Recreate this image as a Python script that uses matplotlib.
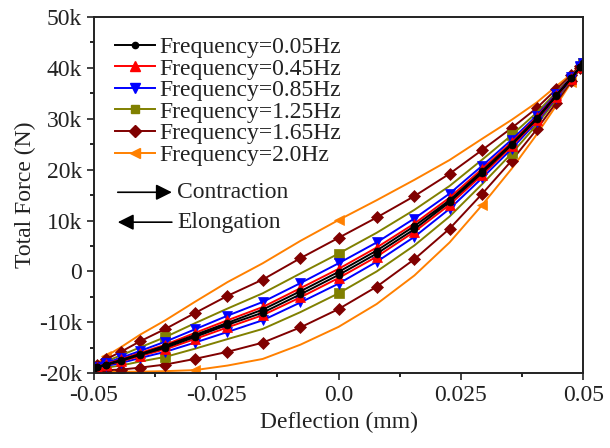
import matplotlib
matplotlib.use('Agg')
import matplotlib.pyplot as plt
from matplotlib.lines import Line2D
import numpy as np

plt.rcParams['font.family'] = ['Liberation Serif', 'DejaVu Serif']

# deflection at the sample points (mm), one half cycle
deflection = [-0.05, -0.0494, -0.0476, -0.0445, -0.0405, -0.0354, -0.0294, -0.0227, -0.0155, -0.0078, 0.0,
              0.0078, 0.0155, 0.0227, 0.0294, 0.0354, 0.0405, 0.0445, 0.0476, 0.0494, 0.05]

labels = ['Frequency=0.05Hz', 'Frequency=0.45Hz', 'Frequency=0.85Hz',
          'Frequency=1.25Hz', 'Frequency=1.65Hz', 'Frequency=2.0Hz']

# total force (kN), contraction branch (left -> right)
f005_c = [-19.0, -18.8, -18.4, -17.6, -16.4, -15.0, -12.9, -10.5, -8.1, -4.5, -0.7, 3.5, 8.3, 13.6, 19.4, 24.9, 29.9, 34.5, 38.0, 40.2, 41.0]
f045_c = [-19.0, -18.9, -18.4, -17.7, -16.6, -15.3, -13.3, -11.0, -8.6, -5.1, -1.3, 2.9, 7.8, 13.1, 19.0, 24.6, 29.7, 34.3, 37.9, 40.2, 41.0]
f085_c = [-19.0, -18.9, -18.6, -18.0, -17.0, -15.8, -14.0, -11.9, -9.6, -6.1, -2.4, 1.9, 6.8, 12.3, 18.4, 24.1, 29.4, 34.1, 37.8, 40.1, 41.0]
f125_c = [-19.0, -19.0, -18.9, -18.5, -17.7, -16.8, -15.2, -13.3, -11.3, -8.0, -4.3, 0.0, 5.1, 10.8, 17.2, 23.2, 28.8, 33.8, 37.7, 40.1, 41.0]
f165_c = [-19.0, -19.2, -19.4, -19.3, -18.9, -18.3, -17.2, -15.8, -14.0, -11.0, -7.4, -3.0, 2.4, 8.4, 15.3, 21.8, 27.9, 33.2, 37.4, 40.0, 41.0]
f200_c = [-19.0, -19.4, -19.6, -19.7, -19.7, -19.6, -19.4, -18.5, -17.2, -14.4, -10.9, -6.4, -0.8, 5.7, 13.1, 20.2, 26.9, 32.6, 37.2, 39.9, 41.0]

# total force (kN), elongation branch (same deflection points)
f005_e = [-19.0, -18.8, -18.3, -17.4, -16.2, -14.6, -12.5, -10.1, -7.5, -3.9, -0.1, 4.1, 8.9, 14.0, 19.8, 25.1, 30.1, 34.6, 38.0, 40.2, 41.0]
f045_e = [-19.0, -18.8, -18.2, -17.3, -16.0, -14.4, -12.1, -9.6, -7.0, -3.3, 0.5, 4.7, 9.4, 14.5, 20.2, 25.4, 30.3, 34.7, 38.1, 40.2, 41.0]
f085_e = [-19.0, -18.7, -18.0, -17.0, -15.6, -13.8, -11.4, -8.7, -6.0, -2.3, 1.6, 5.7, 10.4, 15.3, 20.8, 25.9, 30.6, 34.9, 38.2, 40.3, 41.0]
f125_e = [-19.0, -18.6, -17.7, -16.5, -14.9, -12.9, -10.2, -7.3, -4.3, -0.4, 3.5, 7.6, 12.1, 16.8, 22.0, 26.8, 31.2, 35.2, 38.3, 40.3, 41.0]
f165_e = [-19.0, -18.4, -17.3, -15.8, -13.7, -11.3, -8.2, -4.8, -1.6, 2.6, 6.6, 10.6, 14.8, 19.2, 23.9, 28.2, 32.1, 35.8, 38.6, 40.4, 41.0]
f200_e = [-19.0, -18.2, -16.7, -14.9, -12.4, -9.6, -6.0, -2.1, 1.6, 6.0, 10.1, 14.0, 18.0, 21.9, 26.1, 29.8, 33.2, 36.4, 38.8, 40.5, 41.0]

yticks = [-20, -10, 0, 10, 20, 30, 40, 50]
ytick_labels = ['-20k', '-10k', '0', '10k', '20k', '30k', '40k', '50k']
xticks = [-0.05, -0.025, 0.0, 0.025, 0.05]
xtick_labels = ['-0.05', '-0.025', '0.0', '0.025', '0.05']

colors = ['black', '#ff0000', '#0000ff', '#808000', '#800000', '#ff8000']
markers = ['o', '^', 'v', 's', 'D', '<']
msizes = [5, 7.5, 7.5, 6.5, 6.5, 7.5]
n = len(deflection)
mark_all = list(range(2 * n - 1))
marks = [mark_all, mark_all, mark_all, [0, 5, 10, 15, 20, 25, 30, 35, 40], mark_all, [2, 6, 14, 18, 30, 38]]

contraction = [f005_c, f045_c, f085_c, f125_c, f165_c, f200_c]
elongation = [f005_e, f045_e, f085_e, f125_e, f165_e, f200_e]

fig = plt.figure(figsize=(6.1, 4.48), dpi=100)
ax = fig.add_axes([0.154, 0.167, 0.802, 0.795])

x = np.array(deflection)
for i in [5, 4, 3, 2, 1, 0]:
    xx = np.concatenate([x, x[::-1][1:]])
    yy = np.concatenate([contraction[i], elongation[i][::-1][1:]])
    ax.plot(xx, yy, color=colors[i], lw=1.4, marker=markers[i], ms=msizes[i],
            markevery=marks[i], markeredgewidth=0.5)

ax.set_xlim(-0.05, 0.05)
ax.set_ylim(-20, 50)
ax.set_xticks(xticks)
ax.set_xticklabels(xtick_labels)
ax.set_yticks(yticks)
ax.set_yticklabels(ytick_labels)
ax.set_xticks([-0.0375, -0.0125, 0.0125, 0.0375], minor=True)
ax.set_yticks([-15, -5, 5, 15, 25, 35, 45], minor=True)
ax.tick_params(which='major', direction='out', length=5, width=1.2, labelsize=17, colors='#222222')
ax.tick_params(which='minor', direction='out', length=3, width=1.2)
for s in ax.spines.values():
    s.set_linewidth(1.4)
    s.set_color('#222222')

ax.set_xlabel('Deflection (mm)', fontsize=17, color='#222222', labelpad=4)
ax.set_ylabel('Total Force (N)', fontsize=17, color='#222222', labelpad=2)

handles = [Line2D([], [], color=colors[i], lw=1.4, marker=markers[i], ms=msizes[i] - 0.5) for i in range(6)]
ax.legend(handles, labels, loc='upper left', bbox_to_anchor=(0.043, 0.945), frameon=False,
          fontsize=17, handlelength=1.7, handletextpad=0.2, labelspacing=0.0,
          borderaxespad=0, borderpad=0, labelcolor='#222222')

# direction arrows
ax.annotate('', xy=(0.165, 0.508), xytext=(0.043, 0.508), xycoords='axes fraction',
            arrowprops=dict(arrowstyle='-|>', color='black', lw=1.2, mutation_scale=24))
ax.text(0.170, 0.508, 'Contraction', transform=ax.transAxes, fontsize=17,
        va='center', ha='left', color='#222222')
ax.annotate('', xy=(0.043, 0.424), xytext=(0.165, 0.424), xycoords='axes fraction',
            arrowprops=dict(arrowstyle='-|>', color='black', lw=1.2, mutation_scale=24))
ax.text(0.170, 0.424, 'Elongation', transform=ax.transAxes, fontsize=17,
        va='center', ha='left', color='#222222')

fig.savefig('out.png', dpi=100)
